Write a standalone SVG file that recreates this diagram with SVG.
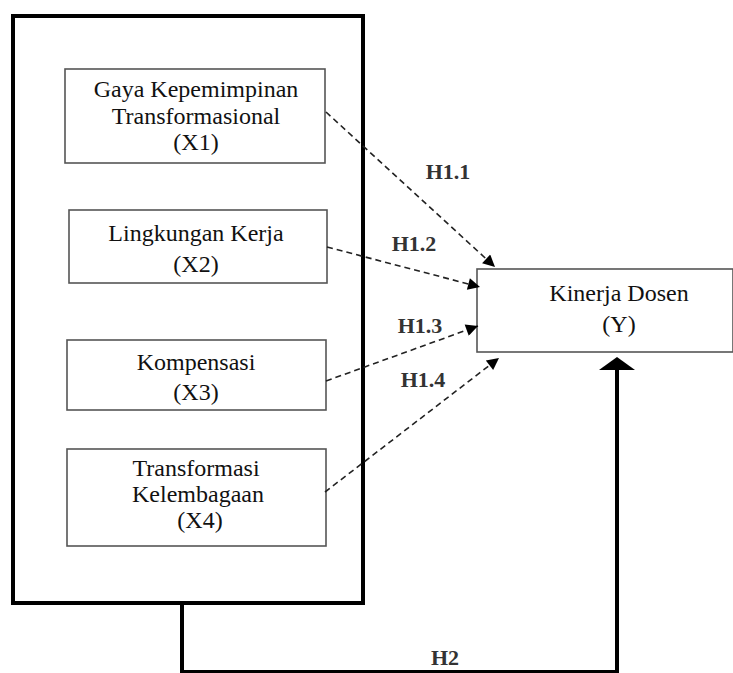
<svg xmlns="http://www.w3.org/2000/svg" width="733" height="673" viewBox="0 0 733 673">
<defs>
<style>
.frame{fill:none;stroke:#000;stroke-width:4}
.box{fill:#fff;stroke:#555;stroke-width:1.6}
.t{font-family:"Liberation Serif","Times New Roman",serif;font-size:24px;fill:#111;text-anchor:middle}
.lbl{font-family:"Liberation Serif","Times New Roman",serif;font-size:22px;font-weight:bold;fill:#333;text-anchor:middle}
.dash{fill:none;stroke:#222;stroke-width:1.6;stroke-dasharray:6 4}
.solid{fill:none;stroke:#000;stroke-width:4}
</style>
<marker id="ah" viewBox="0 0 10 10" refX="10" refY="5" markerWidth="15" markerHeight="12" markerUnits="userSpaceOnUse" orient="auto">
<path d="M0,0 L10,5 L0,10 Z" fill="#000"/>
</marker>
</defs>
<rect x="0" y="0" width="733" height="673" fill="#fff"/>
<g id="frame">
<rect class="frame" x="13" y="16" width="350" height="587"/>
</g>
<g id="x1">
<rect class="box" x="65" y="69" width="260" height="94"/>
<text class="t" x="196" y="97">Gaya Kepemimpinan</text>
<text class="t" x="196" y="124">Transformasional</text>
<text class="t" x="196" y="150">(X1)</text>
</g>
<g id="x2">
<rect class="box" x="69" y="210" width="258" height="73"/>
<text class="t" x="196" y="241">Lingkungan Kerja</text>
<text class="t" x="196" y="272">(X2)</text>
</g>
<g id="x3">
<rect class="box" x="67" y="340" width="259" height="70"/>
<text class="t" x="196" y="370">Kompensasi</text>
<text class="t" x="196" y="400">(X3)</text>
</g>
<g id="x4">
<rect class="box" x="67" y="449" width="259" height="97"/>
<text class="t" x="196" y="476">Transformasi</text>
<text class="t" x="198" y="502">Kelembagaan</text>
<text class="t" x="200" y="528">(X4)</text>
</g>
<g id="y">
<rect class="box" x="477" y="269" width="256" height="83"/>
<text class="t" x="619" y="301">Kinerja Dosen</text>
<text class="t" x="619" y="332">(Y)</text>
</g>
<g id="connectors">
<line class="dash" x1="326" y1="112" x2="495" y2="267" marker-end="url(#ah)"/>
<line class="dash" x1="327" y1="247" x2="480" y2="287" marker-end="url(#ah)"/>
<line class="dash" x1="326" y1="381" x2="478" y2="326" marker-end="url(#ah)"/>
<line class="dash" x1="325" y1="492" x2="499" y2="358" marker-end="url(#ah)"/>
<polyline class="solid" points="182,603 182,672 617,672 617,368"/>
<path d="M617,357 L635,370 L599,370 Z" fill="#000"/>
</g>
<g id="labels">
<text class="lbl" x="448" y="179">H1.1</text>
<text class="lbl" x="414" y="251">H1.2</text>
<text class="lbl" x="420" y="333">H1.3</text>
<text class="lbl" x="423" y="387">H1.4</text>
<text class="lbl" x="445" y="665">H2</text>
</g>
</svg>
